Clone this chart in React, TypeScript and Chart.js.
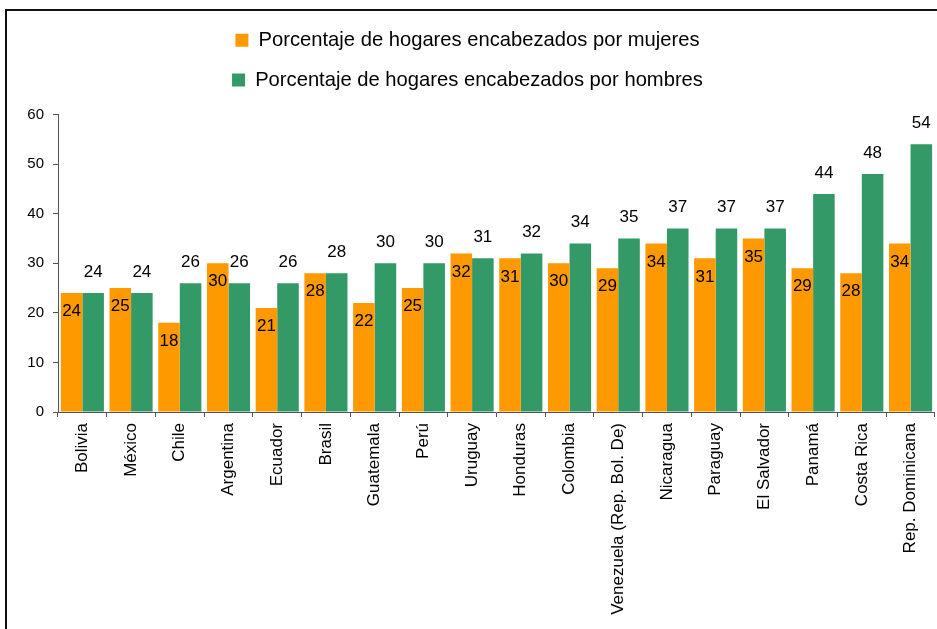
import React, { useEffect, useRef } from "react";
import { Chart, registerables } from "chart.js";

Chart.register(...registerables);

const categories = [
  "Bolivia",
  "México",
  "Chile",
  "Argentina",
  "Ecuador",
  "Brasil",
  "Guatemala",
  "Perú",
  "Uruguay",
  "Honduras",
  "Colombia",
  "Venezuela (Rep. Bol. De)",
  "Nicaragua",
  "Paraguay",
  "El Salvador",
  "Panamá",
  "Costa Rica",
  "Rep. Dominicana",
];

const mujeres = [24, 25, 18, 30, 21, 28, 22, 25, 32, 31, 30, 29, 34, 31, 35, 29, 28, 34];
const hombres = [24, 24, 26, 26, 26, 28, 30, 30, 31, 32, 34, 35, 37, 37, 37, 44, 48, 54];

const labelMujeres = "Porcentaje de hogares encabezados por mujeres";
const labelHombres = "Porcentaje de hogares encabezados por hombres";

const FONT = "'Liberation Sans', Arial, Helvetica, sans-serif";
const ORANGE = "#FF9900";
const GREEN = "#339966";

const framePlugin = {
  id: "frame",
  afterDraw(chart: any) {
    const ctx = chart.ctx;
    ctx.save();
    ctx.fillStyle = "#111";
    ctx.fillRect(5, 9, 2, chart.height);
    ctx.fillRect(5, 9, chart.width, 2);
    ctx.restore();
  },
};

const legendSpacerPlugin = {
  id: "legendSpacer",
  beforeUpdate(chart: any) {
    const legend = chart.legend;
    if (legend && !legend._spacerPatched) {
      const orig = legend.fit.bind(legend);
      legend.fit = function () {
        orig();
        this.height += 14.5;
      };
      legend._spacerPatched = true;
    }
  },
};

const dataLabelPlugin = {
  id: "dataLabels",
  afterDatasetsDraw(chart: any) {
    const ctx = chart.ctx;
    ctx.save();
    ctx.font = `17px ${FONT}`;
    ctx.fillStyle = "#000";
    ctx.textAlign = "center";
    ctx.textBaseline = "middle";
    chart.data.datasets.forEach((ds: any, di: number) => {
      const meta = chart.getDatasetMeta(di);
      meta.data.forEach((bar: any, i: number) => {
        const v = ds.data[i];
        const y = di === 0 ? bar.y + 18.5 : bar.y - 21;
        ctx.fillText(String(v), bar.x, y);
      });
    });
    ctx.restore();
  },
};

export default function App() {
  const canvasRef = useRef<HTMLCanvasElement | null>(null);

  useEffect(() => {
    if (!canvasRef.current) return;
    const chart = new Chart(canvasRef.current, {
      type: "bar",
      data: {
        labels: categories,
        datasets: [
          {
            label: labelMujeres,
            data: mujeres,
            backgroundColor: ORANGE,
            borderWidth: 0,
            categoryPercentage: 0.885,
            barPercentage: 1.0,
          },
          {
            label: labelHombres,
            data: hombres,
            backgroundColor: GREEN,
            borderWidth: 0,
            categoryPercentage: 0.885,
            barPercentage: 1.0,
          },
        ],
      },
      options: {
        animation: false,
        responsive: true,
        maintainAspectRatio: false,
        layout: { padding: { top: 10.5, right: 2, left: 0, bottom: 0 } },
        plugins: {
          tooltip: { enabled: false },
          legend: {
            display: true,
            position: "top",
            labels: {
              boxWidth: 13,
              boxHeight: 13,
              padding: 19.6,
              color: "#000",
              font: { family: FONT, size: 20.2 },
            },
          },
        },
        scales: {
          x: {
            grid: {
              display: true,
              drawOnChartArea: false,
              drawTicks: true,
              tickLength: 5,
              color: "#555",
              offset: true,
            },
            border: { display: true, color: "#555", width: 1 },
            ticks: {
              autoSkip: false,
              maxRotation: 90,
              minRotation: 90,
              padding: 6,
              color: "#000",
              font: { family: FONT, size: 17 },
            },
            afterFit(scale: any) {
              scale.height = 217;
            },
          },
          y: {
            min: 0,
            max: 60,
            ticks: {
              stepSize: 10,
              padding: 9,
              color: "#000",
              font: { family: FONT, size: 15 },
            },
            grid: {
              display: true,
              drawOnChartArea: false,
              drawTicks: true,
              tickLength: 5,
              color: "#555",
            },
            border: { display: true, color: "#555", width: 1 },
            afterFit(scale: any) {
              scale.width = 58;
            },
          },
        },
      },
      plugins: [legendSpacerPlugin, dataLabelPlugin, framePlugin],
    });
    return () => chart.destroy();
  }, []);

  return (
    <div style={{ position: "absolute", left: 0, top: 0, width: 937, height: 629, background: "#fff" }}>
      <canvas ref={canvasRef} />
    </div>
  );
}
